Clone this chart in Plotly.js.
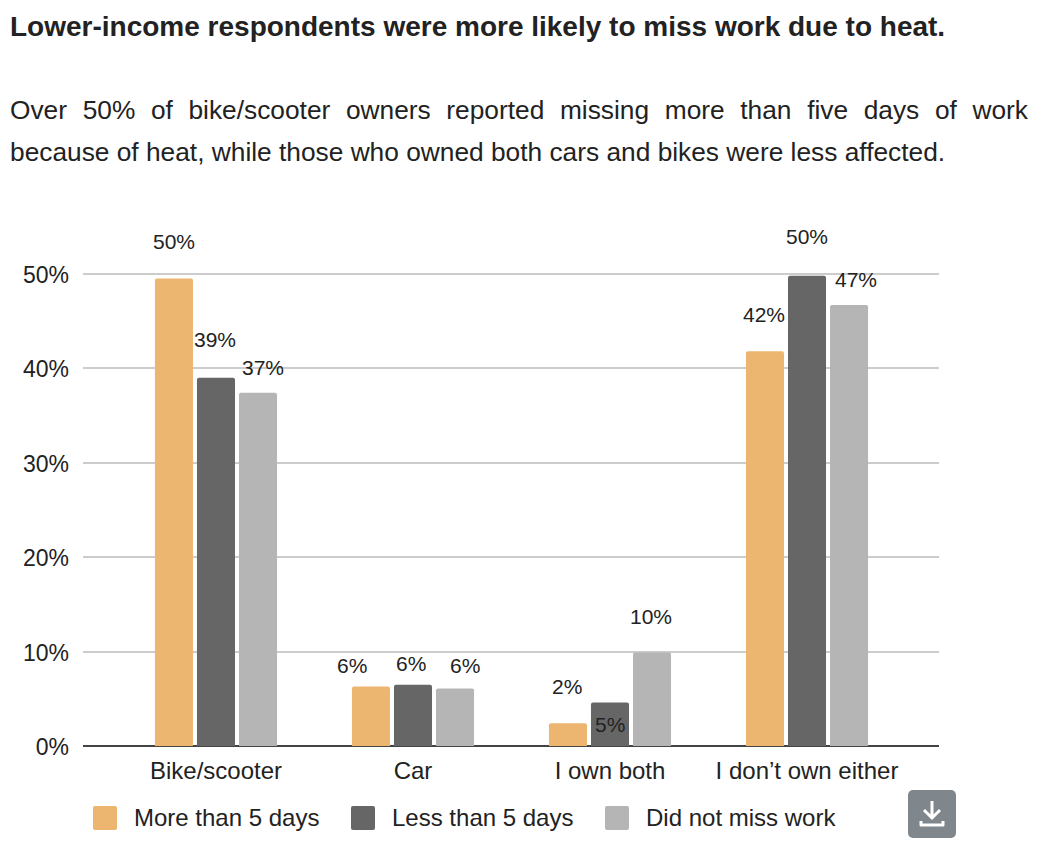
<!DOCTYPE html>
<html>
<head>
<meta charset="utf-8">
<script src="https://cdn.plot.ly/plotly-3.0.1.min.js"></script>
<style>
    body { margin: 0; background: #fff; font-family: "Liberation Sans", Arial, sans-serif; color: #222; }
    #page { position: relative; width: 1048px; height: 860px; overflow: hidden; }
    #chart { position: absolute; left: 0; top: 0; width: 1048px; height: 860px; }
    #heading { position: absolute; left: 10px; top: 12px; font-size: 28px; line-height: 30px; font-weight: bold; white-space: nowrap; }
    #intro { position: absolute; left: 10px; top: 89px; width: 1018px; font-size: 26.3px; line-height: 42px; text-align: justify; }
    #legend { position: absolute; left: 93px; top: 806px; height: 24px; font-size: 24px; line-height: 24px; }
    #legend span { position: absolute; white-space: nowrap; }
    #legend i { position: absolute; top: 0; width: 24px; height: 24px; border-radius: 2px; }
    #download { position: absolute; left: 908px; top: 790px; width: 48px; height: 48px; border-radius: 5px; background: #7f868c; }
</style>
</head>
<body>
<div id="page">
    <div id="chart"></div>
    <div id="heading">Lower-income respondents were more likely to miss work due to heat.</div>
    <div id="intro">Over 50% of bike/scooter owners reported missing more than five days of work because of heat, while those who owned both cars and bikes were less affected.</div>
    <div id="legend"></div>
    <div id="download">
        <svg width="48" height="48" viewBox="0 0 48 48" fill="none" stroke="#fff" stroke-width="3">
            <path d="M24 11V27M16 20L24 28L32 20"/>
            <path d="M13 31V35H35V31" stroke-linejoin="round"/>
        </svg>
    </div>
</div>
<script>
var categories = ["Bike/scooter", "Car", "I own both", "I don\u2019t own either"];
var seriesNames = ["More than 5 days", "Less than 5 days", "Did not miss work"];
var moreThan5 = [49.5, 6.3, 2.4, 41.8];
var lessThan5 = [39.0, 6.5, 4.6, 49.8];
var didNotMiss = [37.4, 6.1, 9.9, 46.7];
var moreLabels = ["50%", "6%", "2%", "42%"];
var lessLabels = ["39%", "6%", "5%", "50%"];
var didNotLabels = ["37%", "6%", "10%", "47%"];
var colors = ["#ecb670", "#666666", "#b5b5b5"];
var tickVals = [0, 10, 20, 30, 40, 50];
var tickText = ["0%", "10%", "20%", "30%", "40%", "50%"];

var allValues = [moreThan5, lessThan5, didNotMiss];
var allLabels = [moreLabels, lessLabels, didNotLabels];

// label nudges in px, the original placed these by hand
var shiftX = [[0, -19, -1, -1], [-1, -2, 0, 0], [5, 10, -1, 7]];
var shiftY = [[37, 21, 37, 37], [38, 21, -22, 39], [25, 23, 36, 26]];

var pitch = 0.213; // distance between bars in a group, in category units

var data = [];
var annotations = [];
for (var s = 0; s < 3; s++) {
    data.push({
        type: "bar",
        name: seriesNames[s],
        x: categories,
        y: allValues[s],
        marker: {color: colors[s], cornerradius: 2},
        hoverinfo: "x+y+name"
    });
    for (var c = 0; c < categories.length; c++) {
        annotations.push({
            xref: "x",
            yref: "y",
            x: c + (s - 1) * pitch,
            y: allValues[s][c],
            text: allLabels[s][c],
            showarrow: false,
            xshift: shiftX[s][c],
            yshift: shiftY[s][c],
            font: {size: 21, color: "#222"}
        });
    }
}

var layout = {
    width: 1048,
    height: 860,
    margin: {l: 83, r: 109, t: 272, b: 114, pad: 0},
    paper_bgcolor: "#fff",
    plot_bgcolor: "#fff",
    font: {family: "Liberation Sans, Arial, sans-serif", size: 21, color: "#222"},
    barmode: "group",
    bargap: 0.36,
    bargroupgap: 0.095,
    showlegend: false,
    xaxis: {
        type: "category",
        range: [-0.675, 3.67],
        showgrid: false,
        ticks: "",
        showline: false,
        automargin: false,
        ticklabelstandoff: 8,
        tickfont: {size: 24}
    },
    yaxis: {
        // a bit over 50 so the top gridline is not dropped at the plot edge
        range: [0, 50.2],
        tickmode: "array",
        tickvals: tickVals,
        ticktext: tickText,
        gridcolor: "#cccccc",
        gridwidth: 2,
        zeroline: true,
        zerolinecolor: "#444444",
        zerolinewidth: 2,
        showline: false,
        ticks: "",
        automargin: false,
        ticklabelstandoff: 13,
        ticklabelshift: 1,
        tickfont: {size: 23}
    },
    annotations: annotations
};

Plotly.newPlot("chart", data, layout, {displayModeBar: false, responsive: false});

// legend sits in the page like the heading does
var legendLeft = [0, 258, 512];
var legendBox = document.getElementById("legend");
seriesNames.forEach(function(name, i) {
    var swatch = document.createElement("i");
    swatch.style.left = legendLeft[i] + "px";
    swatch.style.background = colors[i];
    legendBox.appendChild(swatch);
    var label = document.createElement("span");
    label.style.left = (legendLeft[i] + 41) + "px";
    label.textContent = name;
    legendBox.appendChild(label);
});
</script>
</body>
</html>
